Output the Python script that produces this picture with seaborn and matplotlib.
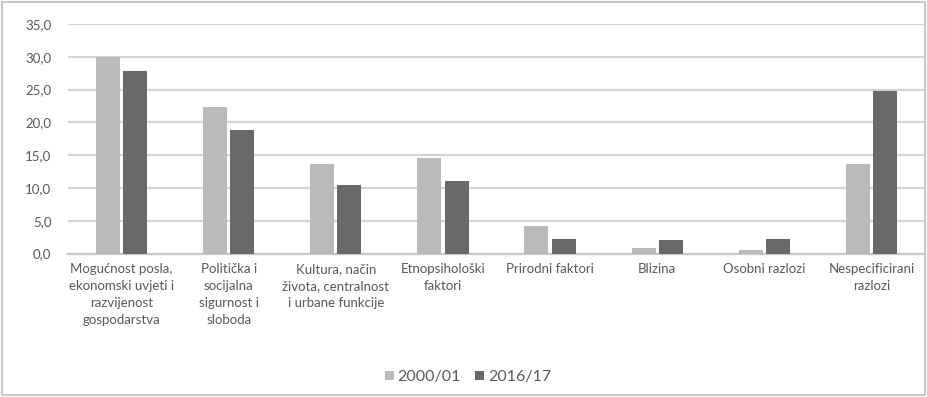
import matplotlib
matplotlib.use("Agg")
import matplotlib.pyplot as plt
from matplotlib import font_manager
from matplotlib.patches import Patch, Rectangle
import seaborn as sns
import pandas as pd

categories = [
    "Mogućnost posla,\nekonomski uvjeti i\nrazvijenost\ngospodarstva",
    "Politička i\nsocijalna\nsigurnost i\nsloboda",
    "Kultura, način\nživota, centralnost\ni urbane funkcije",
    "Etnopsihološki\nfaktori",
    "Prirodni faktori",
    "Blizina",
    "Osobni razlozi",
    "Nespecificirani\nrazlozi",
]
series_names = ["2000/01", "2016/17"]
values_2000 = [29.9, 22.4, 13.7, 14.5, 4.2, 0.8, 0.6, 13.7]
values_2016 = [27.9, 18.8, 10.4, 11.0, 2.2, 2.1, 2.2, 24.8]
y_ticks = [0, 5, 10, 15, 20, 25, 30, 35]

colors = ["#b9babc", "#68696b"]
text_color = "#595959"
grid_color = "#d4d4d4"

sns.set_theme(style="white")
available = {f.name for f in font_manager.fontManager.ttflist}
fam = "Lato" if "Lato" in available else "Open Sans"
plt.rcParams["font.family"] = [fam, "DejaVu Sans"]

df = pd.DataFrame({
    "category": categories * 2,
    "series": [series_names[0]] * len(categories) + [series_names[1]] * len(categories),
    "value": values_2000 + values_2016,
})

fig = plt.figure(figsize=(9.27, 3.97), dpi=100)
ax = fig.add_axes([68 / 927, 1 - 253.5 / 397, (925 - 68) / 927, (253.5 - 24) / 397])

sns.barplot(data=df, x="category", y="value", hue="series", order=categories,
            hue_order=series_names, palette=colors, width=0.51, gap=0.12,
            edgecolor="none", linewidth=0, ax=ax, legend=False, zorder=3)

ax.set_xlim(-0.5, len(categories) - 0.5)
ax.set_ylim(0, 35)
ax.set_yticks(y_ticks)
ax.set_yticklabels([f"{v:.1f}".replace(".", ",") for v in y_ticks])
ax.yaxis.grid(True, color=grid_color, linewidth=1.6, zorder=0)
ax.set_axisbelow(True)
for s in ["top", "right", "left"]:
    ax.spines[s].set_visible(False)
ax.spines["bottom"].set_color("#c8c8c8")
ax.spines["bottom"].set_linewidth(1.6)
ax.set_xlabel("")
ax.set_ylabel("")
ax.tick_params(axis="y", length=0, pad=12, labelsize=9.5, labelcolor=text_color)
ax.tick_params(axis="x", length=0, pad=7, labelsize=9.5, labelcolor=text_color)
for lbl in ax.get_xticklabels():
    lbl.set_verticalalignment("top")
    lbl.set_linespacing(1.5)

handles = [Patch(facecolor=c, edgecolor="none", label=n) for c, n in zip(colors, series_names)]
fig.legend(handles=handles, loc="center", bbox_to_anchor=(468 / 927, 1 - 377 / 397),
           ncol=2, frameon=False, fontsize=11.5, handlelength=0.55, handleheight=0.55,
           handletextpad=0.25, columnspacing=0.9, labelcolor=text_color)

fig.patches.append(Rectangle((0.002, 0.004), 0.996, 0.992, transform=fig.transFigure,
                             fill=False, edgecolor="#c8c8c8", linewidth=1.5))

fig.savefig("out.png", dpi=100)
